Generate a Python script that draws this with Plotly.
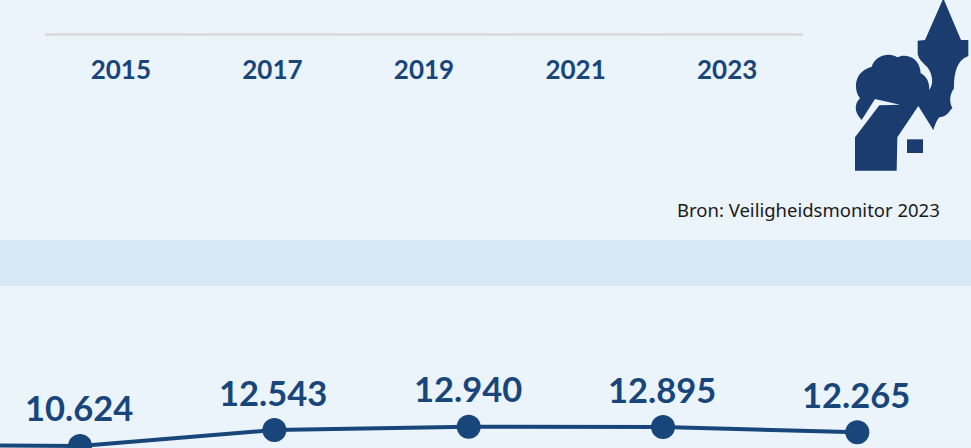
import plotly.graph_objects as go

W, H = 971, 448
BG = "#ebf3fb"
BAND = "#d9e8f7"
NAVY = "#18467a"
ICON = "#1b3c6f"
FONT = "Lato"

top_years = ["2015", "2017", "2019", "2021", "2023"]
top_values = [0, 0, 0, 0, 0]

line_years = [2013, 2015, 2017, 2019, 2021, 2023]
line_values = [10750, 10624, 12543, 12940, 12895, 12265]
line_labels = ["", "10.624", "12.543", "12.940", "12.895", "12.265"]

source_text = "Bron: Veiligheidsmonitor 2023"

icon_body = [
    ("M", 370, -5), ("L", 423, 120), ("L", 445, 120), ("L", 445, 168),
    ("C", 420, 178, 402, 200, 402, 265), ("C", 385, 290, 390, 310, 397, 325),
    ("C", 385, 335, 383, 350, 358, 352), ("C", 350, 360, 345, 375, 340, 390),
    ("L", 295, 318), ("L", 232, 412), ("L", 230, 512), ("L", 105, 512),
    ("L", 105, 412), ("L", 178, 316), ("L", 240, 314), ("L", 165, 297),
    ("L", 125, 360), ("C", 105, 340, 100, 315, 120, 295),
    ("C", 100, 270, 100, 215, 155, 200), ("C", 165, 165, 210, 155, 232, 172),
    ("C", 255, 160, 300, 170, 302, 220), ("C", 320, 228, 330, 250, 327, 270),
    ("C", 345, 250, 335, 210, 315, 195), ("C", 300, 180, 293, 170, 293, 160),
    ("L", 293, 122), ("L", 315, 120),
]
icon_window = [("M", 261, 418), ("L", 309, 418), ("L", 309, 459), ("L", 261, 459)]


def px(x):
    return x / W


def py(y):
    return 1 - y / H


def icon_path(cmds):
    out = []
    for c in cmds:
        pts = c[1:]
        xy = [
            f"{px(820 + pts[i] / 3):.5f},{py(pts[i + 1] / 3):.5f}"
            for i in range(0, len(pts), 2)
        ]
        out.append(c[0] + " ".join(xy))
    return " ".join(out) + " Z"


fig = go.Figure()
fig.add_trace(go.Bar(x=top_years, y=top_values, xaxis="x", yaxis="y",
                     marker_color=NAVY, showlegend=False, hoverinfo="skip"))
fig.add_trace(go.Scatter(
    x=line_years, y=line_values, xaxis="x2", yaxis="y2",
    mode="lines+markers",
    line=dict(color=NAVY, width=4), marker=dict(color=NAVY, size=24),
    showlegend=False, hoverinfo="skip",
))

shapes = [
    dict(type="rect", xref="paper", yref="paper", x0=0, x1=1, y0=py(286), y1=py(240),
         fillcolor=BAND, line_width=0, layer="below"),
    dict(type="path", xref="paper", yref="paper", path=icon_path(icon_body),
         fillcolor=ICON, line_width=0),
    dict(type="path", xref="paper", yref="paper", path=icon_path(icon_window),
         fillcolor=ICON, line_width=0),
]

value_annotations = [
    dict(xref="x2", yref="y2", x=x, y=v, text=t, showarrow=False,
         xanchor="center", yanchor="middle", yshift=38, xshift=-1,
         font=dict(family=FONT, size=34.5, color=NAVY, weight="bold"))
    for x, v, t in zip(line_years, line_values, line_labels) if t
]

fig.update_layout(
    width=W, height=H, autosize=False,
    margin=dict(l=0, r=0, t=0, b=0),
    paper_bgcolor=BG, plot_bgcolor="rgba(0,0,0,0)",
    font=dict(family=FONT, color=NAVY),
    shapes=shapes,
    xaxis=dict(
        domain=[px(45), px(803)], anchor="y", type="category",
        categoryorder="array", categoryarray=top_years, range=[-0.5, 4.5],
        showline=True, linecolor="#dddde0", linewidth=3, showgrid=False,
        ticks="outside", ticklen=12, tickcolor="rgba(0,0,0,0)",
        tickfont=dict(family=FONT, size=26, color=NAVY, weight="bold"),
    ),
    yaxis=dict(domain=[py(33), 1], anchor="x", range=[0, 10], visible=False),
    xaxis2=dict(domain=[0, 1], anchor="y2", range=[2014.176, 2024.17], visible=False),
    yaxis2=dict(domain=[0, py(300)], anchor="x2", range=[10374, 28206], visible=False),
    annotations=value_annotations + [dict(
        xref="paper", yref="paper", x=px(942), y=py(209), xanchor="right", yanchor="middle",
        text=source_text, showarrow=False,
        font=dict(family="Noto Sans", size=18.5, color="#1a1a1a"),
    )],
)

fig.write_html(
    "out.html", config=dict(displayModeBar=False),
    post_script="document.body.style.margin='0';document.documentElement.style.overflow='hidden';"
                "document.body.style.background='" + BG + "';window.dispatchEvent(new Event('resize'));",
)
